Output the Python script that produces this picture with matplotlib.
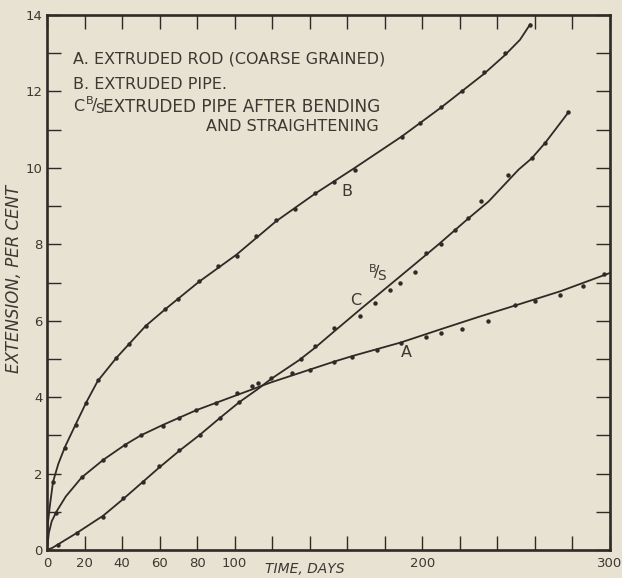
import matplotlib
matplotlib.use("Agg")
import matplotlib.pyplot as plt
import numpy as np

# ---------------- data ----------------
# Curve A: extruded rod (coarse grained)
a_pts_x = [5, 18.5, 30, 41.5, 50, 61.6, 70.6, 79.6, 90, 101.5, 109, 112.6, 130.6, 140,
           153, 162.6, 176, 188.5, 202, 210, 221, 235, 249.6, 260, 273.5, 285.7, 297]
a_pts_y = [0.97, 1.9, 2.36, 2.75, 3.0, 3.25, 3.45, 3.66, 3.85, 4.1, 4.29, 4.37, 4.63, 4.71,
           4.92, 5.05, 5.24, 5.42, 5.58, 5.68, 5.78, 6.0, 6.41, 6.52, 6.67, 6.91, 7.22]
a_line_x = [0, 1, 2.5, 5, 10, 18.5, 30, 41.5, 50, 61.6, 79.6, 101.5, 119, 140, 153, 163,
            188.5, 210, 230, 249.6, 273.5, 300]
a_line_y = [0, 0.45, 0.75, 1.0, 1.4, 1.9, 2.36, 2.75, 3.0, 3.27, 3.66, 4.06, 4.38, 4.72, 4.93,
            5.08, 5.43, 5.78, 6.1, 6.4, 6.77, 7.25]

# Curve B: extruded pipe
b_pts_x = [3.2, 9.6, 15.4, 21, 27, 37, 43.5, 52.5, 63, 70, 81, 91, 101, 111.5, 122, 132,
           143, 153, 164, 189, 199, 210, 221, 232.6, 244, 257.5]
b_pts_y = [1.78, 2.67, 3.27, 3.85, 4.45, 5.03, 5.4, 5.86, 6.3, 6.57, 7.04, 7.43, 7.7, 8.22,
           8.64, 8.93, 9.35, 9.63, 9.95, 10.8, 11.18, 11.6, 12.0, 12.5, 13.0, 13.74]
b_line_x = [0, 0.5, 1.5, 3.2, 6, 9.6, 15.4, 21, 27, 37, 52.5, 63, 81, 101, 122, 143, 164,
            189, 210, 232.6, 244, 252, 257.5]
b_line_y = [0, 0.7, 1.15, 1.78, 2.25, 2.7, 3.3, 3.87, 4.42, 5.03, 5.86, 6.3, 7.02, 7.73,
            8.6, 9.33, 10.0, 10.82, 11.58, 12.45, 12.95, 13.35, 13.76]

# Curve C: B/S extruded pipe after bending and straightening
c_pts_x = [6, 16, 30, 40.5, 51, 59.6, 70.6, 81.6, 92, 102.5, 119.5, 135.4, 143, 153, 167,
           175, 183, 188, 196, 202, 210, 217.6, 224.6, 231.4, 245.9, 258.3, 265.4, 277.8]
c_pts_y = [0.13, 0.44, 0.87, 1.36, 1.78, 2.2, 2.62, 3.0, 3.45, 3.87, 4.5, 5.0, 5.34, 5.81,
           6.12, 6.47, 6.8, 7.0, 7.28, 7.77, 8.0, 8.38, 8.68, 9.14, 9.82, 10.25, 10.65, 11.45]
c_line_x = [0, 3, 6, 16, 30, 40.5, 51, 59.6, 70.6, 81.6, 92, 102.5, 112, 119.5, 134.4, 143,
            153, 167, 183, 196, 208.7, 217.6, 224.6, 235.3, 251.2, 258.3, 265.4, 277.8]
c_line_y = [0, 0.06, 0.15, 0.45, 0.9, 1.33, 1.78, 2.15, 2.6, 3.02, 3.45, 3.87, 4.2, 4.48,
            4.97, 5.3, 5.72, 6.3, 6.95, 7.48, 8.0, 8.38, 8.68, 9.12, 9.95, 10.25, 10.65, 11.45]

x_ticks = [0, 20, 40, 60, 80, 100, 120, 140, 160, 180, 200, 220, 240, 260, 280, 300]
x_tick_labels = ["0", "20", "40", "60", "80", "100", "", "", "", "", "200", "", "", "", "", "300"]
y_ticks = [0, 2, 4, 6, 8, 10, 12, 14]
y_tick_labels = ["0", "2", "4", "6", "8", "10", "12", "14"]

legend_a = "A. EXTRUDED ROD (COARSE GRAINED)"
legend_b = "B. EXTRUDED PIPE."
legend_c_head = "C"
legend_c_tail = "EXTRUDED PIPE AFTER BENDING"
legend_c_cont = "AND STRAIGHTENING"
x_label = "TIME, DAYS"
y_label = "EXTENSION, PER CENT"

# ---------------- style ----------------
BG = "#e7e2d2"
INK = "#2e2a25"
TXT = "#3c3832"
FS = 11.5

fig = plt.figure(figsize=(6.22, 5.78), dpi=100)
fig.patch.set_facecolor(BG)
ax = fig.add_axes([47 / 622, 1 - 550 / 578, (610 - 47) / 622, (550 - 15) / 578])
ax.set_facecolor(BG)

lw = 1.3
ax.plot(a_line_x, a_line_y, color=INK, lw=lw, solid_capstyle="round")
ax.plot(b_line_x, b_line_y, color=INK, lw=lw, solid_capstyle="round")
ax.plot(c_line_x, c_line_y, color=INK, lw=lw, solid_capstyle="round")
ms = 3.2
ax.plot(a_pts_x, a_pts_y, "o", color=INK, ms=ms, mew=0)
ax.plot(b_pts_x, b_pts_y, "o", color=INK, ms=ms, mew=0)
ax.plot(c_pts_x, c_pts_y, "o", color=INK, ms=ms, mew=0)

ax.set_xlim(0, 300)
ax.set_ylim(0, 14)

ax.set_xticks(x_ticks)
ax.set_xticklabels(x_tick_labels)
ax.set_yticks(y_ticks)
ax.set_yticklabels(y_tick_labels)
ax.set_yticks(np.arange(0, 15, 1), minor=True)

ax.tick_params(which="both", direction="in", top=True, right=True, length=10,
               width=1.0, color=INK, labelsize=9.5, labelcolor=TXT, pad=5)
ax.tick_params(axis="y", which="major", pad=3)

for s in ax.spines.values():
    s.set_linewidth(1.9)
    s.set_color(INK)

fig.text(305 / 622, 1 - 569 / 578, x_label, fontsize=10, style="italic", color=TXT,
         ha="center", va="center")
fig.text(14 / 622, 1 - 279 / 578, y_label, fontsize=12, style="italic", color=TXT,
         ha="center", va="center", rotation=90)


def b_over_s(x, y, size):
    """Draw the stacked 'B/S' sign with its centre at data point (x, y)."""
    ax.annotate("B", (x, y), xytext=(-3.4, 3.2), textcoords="offset points",
                fontsize=size * 0.7, color=TXT, ha="center", va="center")
    ax.annotate("/", (x, y), xytext=(0, 0), textcoords="offset points",
                fontsize=size, color=TXT, ha="center", va="center")
    ax.annotate("S", (x, y), xytext=(3.6, -2.4), textcoords="offset points",
                fontsize=size * 0.85, color=TXT, ha="center", va="center")


# legend-like text block
ax.text(13.8, 12.85, legend_a, fontsize=FS, color=TXT, va="center", ha="left")
ax.text(13.8, 12.17, legend_b, fontsize=FS, color=TXT, va="center", ha="left")
ax.text(13.8, 11.6, legend_c_head, fontsize=FS, color=TXT, va="center", ha="left")
b_over_s(25.2, 11.64, FS)
ax.text(29.9, 11.6, legend_c_tail, fontsize=12.2, color=TXT, va="center", ha="left")
ax.text(177, 11.07, legend_c_cont, fontsize=FS, color=TXT, va="center", ha="right")

# curve labels
ax.text(191.7, 5.16, "A", fontsize=FS, color=TXT, ha="center", va="center")
ax.text(160, 9.37, "B", fontsize=FS, color=TXT, ha="center", va="center")
b_over_s(175.8, 7.25, FS)
ax.text(164.6, 6.52, "C", fontsize=FS, color=TXT, ha="center", va="center")

fig.savefig("out.png", dpi=100, facecolor=BG)
